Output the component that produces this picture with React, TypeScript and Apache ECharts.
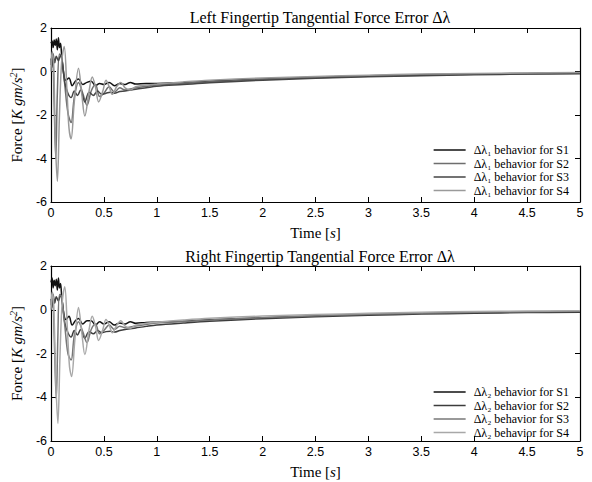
import React, { useEffect, useRef } from "react";
import * as echarts from "echarts";

// ---------- Data: Left fingertip (top) ----------
const tL1 = [0, 0.01, 0.02, 0.03, 0.04, 0.05, 0.06, 0.07, 0.08, 0.09, 0.1, 0.12, 0.14, 0.17, 0.2, 0.23, 0.26, 0.3, 0.34, 0.38, 0.42, 0.46, 0.5, 0.55, 0.6, 0.65, 0.7, 0.75, 0.8, 0.9, 1.0, 1.25, 1.5, 2, 2.5, 3, 3.5, 4, 4.5, 5];
const vL1 = [1.3, 1.4, 1.1, 1.45, 1.2, 1.5, 1.0, 1.55, 1.1, 1.3, 0.8, -0.1, -0.4, -0.3, -0.65, -0.45, -0.35, -0.6, -0.5, -0.45, -0.65, -0.55, -0.6, -0.5, -0.65, -0.55, -0.6, -0.5, -0.58, -0.55, -0.55, -0.5, -0.44, -0.34, -0.26, -0.2, -0.15, -0.11, -0.09, -0.07];

const tL2 = [0, 0.015, 0.03, 0.045, 0.06, 0.08, 0.1, 0.13, 0.16, 0.19, 0.22, 0.26, 0.3, 0.34, 0.38, 0.42, 0.46, 0.5, 0.55, 0.6, 0.65, 0.7, 0.8, 0.9, 1.0, 1.25, 1.5, 2, 2.5, 3, 3.5, 4, 4.5, 5];
const vL2 = [0.3, 0.9, -1.5, -4.0, -1.0, 0.8, 0.7, -0.6, -1.9, -2.35, -1.2, -0.5, -1.0, -1.55, -0.9, -0.6, -1.15, -1.0, -0.7, -0.95, -0.75, -0.85, -0.75, -0.68, -0.62, -0.55, -0.48, -0.37, -0.29, -0.22, -0.17, -0.13, -0.1, -0.08];

const tL3 = [0, 0.01, 0.02, 0.035, 0.05, 0.07, 0.09, 0.11, 0.13, 0.16, 0.19, 0.22, 0.25, 0.28, 0.32, 0.36, 0.4, 0.44, 0.48, 0.52, 0.56, 0.6, 0.65, 0.7, 0.8, 0.9, 1.0, 1.25, 1.5, 2, 2.5, 3, 3.5, 4, 4.5, 5];
const vL3 = [0.6, 0.2, 0.8, 0.4, 0.7, 0.5, 0.75, 0.3, -0.5, -1.0, -1.2, -0.9, -1.1, -0.85, -1.4, -0.95, -1.1, -0.9, -1.05, -1.0, -0.95, -1.0, -0.92, -0.9, -0.82, -0.75, -0.68, -0.6, -0.52, -0.4, -0.31, -0.24, -0.19, -0.15, -0.12, -0.1];

const tL4 = [0, 0.01, 0.025, 0.04, 0.06, 0.08, 0.1, 0.125, 0.15, 0.17, 0.19, 0.22, 0.26, 0.29, 0.32, 0.36, 0.39, 0.42, 0.45, 0.49, 0.52, 0.55, 0.58, 0.62, 0.66, 0.7, 0.75, 0.8, 0.9, 1.0, 1.25, 1.5, 2, 2.5, 3, 3.5, 4, 4.5, 5];
const vL4 = [0, 0.9, 0.4, -3.0, -5.05, -2.0, 0.4, 1.15, -0.8, -2.6, -3.1, -1.4, 0.15, -1.0, -2.05, -0.9, -0.25, -0.7, -1.4, -0.9, -0.4, -0.7, -1.05, -0.7, -0.5, -0.75, -0.85, -0.7, -0.62, -0.58, -0.48, -0.4, -0.3, -0.23, -0.17, -0.12, -0.09, -0.07, -0.05];

// ---------- Data: Right fingertip (bottom) ----------
const tR1 = [0, 0.01, 0.02, 0.03, 0.04, 0.05, 0.06, 0.07, 0.08, 0.09, 0.1, 0.12, 0.14, 0.17, 0.2, 0.23, 0.26, 0.3, 0.34, 0.38, 0.42, 0.46, 0.5, 0.55, 0.6, 0.65, 0.7, 0.75, 0.8, 0.9, 1.0, 1.25, 1.5, 2, 2.5, 3, 3.5, 4, 4.5, 5];
const vR1 = [1.25, 1.45, 1.0, 1.35, 1.1, 1.4, 0.9, 1.45, 1.0, 1.2, 0.7, -0.15, -0.45, -0.3, -0.7, -0.5, -0.4, -0.65, -0.5, -0.5, -0.7, -0.55, -0.65, -0.55, -0.7, -0.6, -0.65, -0.55, -0.62, -0.58, -0.57, -0.52, -0.46, -0.36, -0.28, -0.21, -0.16, -0.12, -0.1, -0.08];

const tR2 = [0, 0.01, 0.02, 0.035, 0.05, 0.07, 0.09, 0.11, 0.13, 0.16, 0.19, 0.22, 0.25, 0.28, 0.32, 0.36, 0.4, 0.44, 0.48, 0.52, 0.56, 0.6, 0.65, 0.7, 0.8, 0.9, 1.0, 1.25, 1.5, 2, 2.5, 3, 3.5, 4, 4.5, 5];
const vR2 = [0.5, 0.1, 0.7, 0.3, 0.6, 0.4, 0.7, 0.2, -0.6, -1.05, -1.25, -0.95, -1.15, -0.9, -1.3, -1.0, -1.1, -0.95, -1.05, -1.0, -0.98, -1.02, -0.95, -0.9, -0.83, -0.76, -0.7, -0.61, -0.53, -0.41, -0.32, -0.25, -0.2, -0.16, -0.13, -0.11];

const tR3 = [0, 0.015, 0.03, 0.05, 0.065, 0.08, 0.1, 0.13, 0.16, 0.19, 0.22, 0.26, 0.3, 0.34, 0.38, 0.42, 0.46, 0.5, 0.55, 0.6, 0.65, 0.7, 0.8, 0.9, 1.0, 1.25, 1.5, 2, 2.5, 3, 3.5, 4, 4.5, 5];
const vR3 = [0.2, 0.8, -1.2, -4.1, -1.2, 0.7, 0.6, -0.7, -2.0, -2.3, -1.2, -0.55, -1.0, -1.5, -0.9, -0.65, -1.1, -0.95, -0.7, -0.9, -0.75, -0.82, -0.74, -0.67, -0.61, -0.54, -0.47, -0.36, -0.28, -0.21, -0.16, -0.12, -0.09, -0.07];

const tR4 = [0, 0.01, 0.025, 0.045, 0.065, 0.085, 0.105, 0.13, 0.155, 0.175, 0.195, 0.225, 0.26, 0.29, 0.32, 0.36, 0.39, 0.42, 0.45, 0.49, 0.52, 0.55, 0.58, 0.62, 0.66, 0.7, 0.75, 0.8, 0.9, 1.0, 1.25, 1.5, 2, 2.5, 3, 3.5, 4, 4.5, 5];
const vR4 = [0, 0.8, 0.3, -3.2, -5.2, -2.1, 0.3, 1.05, -0.9, -2.6, -3.05, -1.4, 0.1, -1.0, -2.05, -0.9, -0.3, -0.75, -1.4, -0.9, -0.45, -0.7, -1.05, -0.72, -0.5, -0.75, -0.85, -0.7, -0.62, -0.57, -0.47, -0.39, -0.29, -0.22, -0.16, -0.11, -0.08, -0.06, -0.04];

const leftNames = ["Δλ₁ behavior for S1", "Δλ₁ behavior for S2", "Δλ₁ behavior for S3", "Δλ₁ behavior for S4"];
const rightNames = ["Δλ₂ behavior for S1", "Δλ₂ behavior for S2", "Δλ₂ behavior for S3", "Δλ₂ behavior for S4"];
const leftColors = ["#111111", "#6e6e6e", "#454545", "#9a9a9a"];
const rightColors = ["#111111", "#3c3c3c", "#777777", "#a8a8a8"];

const xTicks = { min: 0, max: 5, interval: 0.5 };
const yTicks = { min: -6, max: 2, interval: 2 };

const pairs = (t: number[], v: number[]) => t.map((x, i) => [x, v[i]]);

export default function App() {
  const ref = useRef<HTMLDivElement>(null);
  useEffect(() => {
    if (!ref.current) return;
    const chart = echarts.init(ref.current, null, { renderer: "svg" });
    const serif = "Liberation Serif";
    const sans = "Liberation Sans";
    const tickStyle = { show: true, inside: true, length: 5, lineStyle: { color: "#000" } };
    const mkX = (gi: number, main: boolean) => ({
      type: "value",
      gridIndex: gi,
      position: main ? "bottom" : "top",
      ...xTicks,
      axisLine: { show: true, onZero: false, lineStyle: { color: "#000", width: 1.2 } },
      axisTick: tickStyle,
      axisLabel: { show: main, color: "#000", fontFamily: sans, fontSize: 12.5, margin: 4 },
      splitLine: { show: false },
      name: main ? "{n|Time [}{i|s}{n|]}" : "",
      nameLocation: "middle",
      nameGap: 23,
      nameTextStyle: {
        color: "#000",
        fontFamily: serif,
        fontSize: 15,
        rich: {
          n: { fontFamily: serif, fontSize: 15, color: "#000" },
          i: { fontFamily: serif, fontSize: 15, fontStyle: "italic", color: "#000" },
        },
      },
    });
    const mkY = (gi: number, main: boolean) => ({
      type: "value",
      gridIndex: gi,
      position: main ? "left" : "right",
      ...yTicks,
      axisLine: { show: true, onZero: false, lineStyle: { color: "#000", width: 1.2 } },
      axisTick: tickStyle,
      axisLabel: { show: main, color: "#000", fontFamily: sans, fontSize: 12.5, margin: 4 },
      splitLine: { show: false },
      name: main ? "{n|Force [}{i|K gm/s}{s|2}{n|]}" : "",
      nameLocation: "middle",
      nameGap: 26,
      nameTextStyle: {
        color: "#000",
        fontFamily: serif,
        fontSize: 15,
        rich: {
          n: { fontFamily: serif, fontSize: 15, color: "#000" },
          i: { fontFamily: serif, fontSize: 15, fontStyle: "italic", color: "#000" },
          s: { fontFamily: serif, fontSize: 10, fontStyle: "italic", color: "#000", verticalAlign: "top", padding: [0, 0, 7, 0] },
        },
      },
    });
    const mkSeries = (name: string, t: number[], v: number[], color: string, gi: number) => ({
      type: "line",
      name,
      xAxisIndex: gi * 2,
      yAxisIndex: gi * 2,
      data: pairs(t, v),
      showSymbol: false,
      symbol: "none",
      smooth: 0.35,
      lineStyle: { color, width: 1.5 },
      itemStyle: { color },
      z: 3,
    });
    const topCenters = [150, 163.5, 177, 190.5];
    const botCenters = [392, 405.5, 419, 432.5];
    const mkLegend = (name: string, center: number) => ({
      orient: "vertical",
      right: 23,
      top: center - 6,
      itemWidth: 32,
      itemHeight: 8,
      itemGap: 0,
      padding: 0,
      icon: "path://M0,4 L32,4 L32,5.4 L0,5.4 Z",
      textStyle: { fontFamily: serif, fontSize: 12, lineHeight: 12, color: "#000", padding: [0, 0, 0, 3] },
      backgroundColor: "transparent",
      data: [name],
    });
    const titleStyle = { fontFamily: serif, fontSize: 16, fontWeight: "normal", color: "#000" };
    chart.setOption({
      animation: false,
      backgroundColor: "#fff",
      title: [
        { text: "Left Fingertip Tangential Force Error Δλ", left: 315, top: 4, textAlign: "center", textStyle: titleStyle },
        { text: "Right Fingertip Tangential Force Error Δλ", left: 315, top: 243, textAlign: "center", textStyle: titleStyle },
      ],
      grid: [
        { left: 50, top: 28, width: 530, height: 174 },
        { left: 50, top: 266, width: 530, height: 175 },
      ],
      xAxis: [mkX(0, true), mkX(0, false), mkX(1, true), mkX(1, false)],
      yAxis: [mkY(0, true), mkY(0, false), mkY(1, true), mkY(1, false)],
      legend: [
        ...leftNames.map((n, i) => mkLegend(n, topCenters[i])),
        ...rightNames.map((n, i) => mkLegend(n, botCenters[i])),
      ],
      series: [
        mkSeries(leftNames[0], tL1, vL1, leftColors[0], 0),
        mkSeries(leftNames[1], tL2, vL2, leftColors[1], 0),
        mkSeries(leftNames[2], tL3, vL3, leftColors[2], 0),
        mkSeries(leftNames[3], tL4, vL4, leftColors[3], 0),
        mkSeries(rightNames[0], tR1, vR1, rightColors[0], 1),
        mkSeries(rightNames[1], tR2, vR2, rightColors[1], 1),
        mkSeries(rightNames[2], tR3, vR3, rightColors[2], 1),
        mkSeries(rightNames[3], tR4, vR4, rightColors[3], 1),
      ],
    });
    return () => chart.dispose();
  }, []);
  return <div ref={ref} style={{ position: "absolute", left: 0, top: 0, width: 592, height: 482 }} />;
}
